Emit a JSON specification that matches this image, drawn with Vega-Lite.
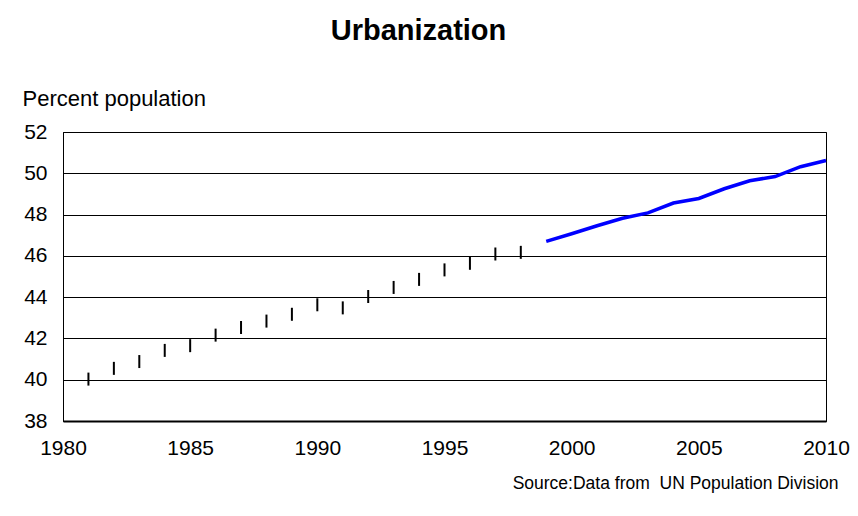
{
  "$schema": "https://vega.github.io/schema/vega-lite/v6.json",
  "width": 763,
  "height": 289,
  "autosize": {"type": "none"},
  "padding": {"left": 63, "top": 132, "right": 32, "bottom": 95},
  "background": "white",
  "title": {"text": "Urbanization", "font": "Liberation Sans", "fontSize": 29, "fontWeight": "bold", "color": "black", "anchor": "middle", "dx": -26, "offset": 41},
  "config": {
    "view": {"stroke": "black", "strokeWidth": 1},
    "axis": {"labelFont": "Liberation Sans", "labelFontSize": 21, "labelColor": "black", "titleFont": "Liberation Sans", "titleColor": "black", "domainColor": "black", "ticks": false, "labelFlush": false}
  },
  "datasets": {
    "estimates": [
      {"year": 1981, "percent": 40.03},
      {"year": 1982, "percent": 40.55},
      {"year": 1983, "percent": 40.88},
      {"year": 1984, "percent": 41.42},
      {"year": 1985, "percent": 41.65},
      {"year": 1986, "percent": 42.16},
      {"year": 1987, "percent": 42.53},
      {"year": 1988, "percent": 42.84},
      {"year": 1989, "percent": 43.17},
      {"year": 1990, "percent": 43.63},
      {"year": 1991, "percent": 43.48},
      {"year": 1992, "percent": 44.03},
      {"year": 1993, "percent": 44.47},
      {"year": 1994, "percent": 44.86},
      {"year": 1995, "percent": 45.32},
      {"year": 1996, "percent": 45.64},
      {"year": 1997, "percent": 46.09},
      {"year": 1998, "percent": 46.17}
    ],
    "projection": [
      {"year": 1999, "percent": 46.7},
      {"year": 2000, "percent": 47.07},
      {"year": 2001, "percent": 47.46},
      {"year": 2002, "percent": 47.82},
      {"year": 2003, "percent": 48.08},
      {"year": 2004, "percent": 48.56},
      {"year": 2005, "percent": 48.78},
      {"year": 2006, "percent": 49.25},
      {"year": 2007, "percent": 49.64},
      {"year": 2008, "percent": 49.84},
      {"year": 2009, "percent": 50.32},
      {"year": 2010, "percent": 50.62}
    ]
  },
  "layer": [
    {
      "data": {"name": "estimates"},
      "mark": {"type": "tick", "orient": "vertical", "color": "black", "size": 13, "thickness": 2, "opacity": 1},
      "encoding": {
        "x": {"field": "year", "type": "quantitative", "scale": {"domain": [1980, 2010], "nice": false, "zero": false},
          "axis": {"values": [1980, 1985, 1990, 1995, 2000, 2005, 2010], "format": "d", "grid": false, "domainWidth": 2, "labelPadding": 16,
            "title": "Source:Data from\u00a0 UN Population Division", "titleFontSize": 17.5, "titleFontWeight": "normal", "titleAlign": "right", "titleAnchor": null, "titleX": 775, "titleY": 67, "titleBaseline": "alphabetic"}},
        "y": {"field": "percent", "type": "quantitative", "scale": {"domain": [38, 52], "nice": false, "zero": false},
          "axis": {"values": [38, 40, 42, 44, 46, 48, 50, 52], "grid": true, "gridColor": "black", "gridOpacity": 1, "gridWidth": 1, "labelPadding": 16,
            "title": "Percent population", "titleFontSize": 22, "titleFontWeight": "normal", "titleAngle": 0, "titleAlign": "left", "titleBaseline": "alphabetic", "titleX": -41, "titleY": -27}}
      }
    },
    {
      "data": {"name": "projection"},
      "mark": {"type": "line", "color": "#0000FF", "strokeWidth": 3.5},
      "encoding": {
        "x": {"field": "year", "type": "quantitative"},
        "y": {"field": "percent", "type": "quantitative"}
      }
    }
  ]
}
